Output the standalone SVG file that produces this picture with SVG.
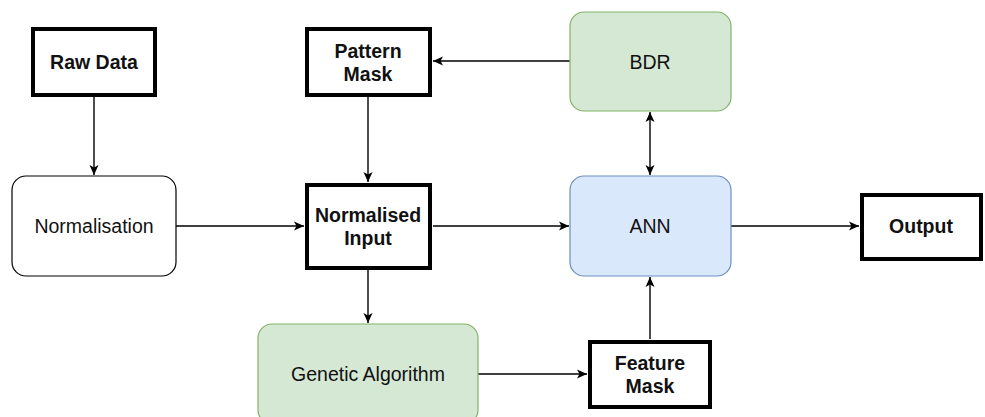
<svg xmlns="http://www.w3.org/2000/svg" width="985" height="417" viewBox="0 0 985 417">
<style>
  .bold { fill:#fff; stroke:#000; stroke-width:4; }
  .plain { fill:#fff; stroke:#000; stroke-width:1.2; }
  .green { fill:#d5e8d4; stroke:#82b366; stroke-width:1.2; }
  .blue { fill:#dae8fc; stroke:#6c8ebf; stroke-width:1.2; }
  text { font-family:"Liberation Sans", Arial, sans-serif; font-size:19.5px; fill:#111; text-anchor:middle; }
  .b { font-weight:bold; }
  .edge { fill:none; stroke:#000; stroke-width:1.4; }
</style>
<defs>
  <marker id="arr" markerUnits="userSpaceOnUse" markerWidth="12" markerHeight="12" refX="11" refY="6" orient="auto-start-reverse">
    <path d="M1,1.5 L11,6 L1,10.5 L3.5,6 Z" fill="#000"/>
  </marker>
</defs>
<rect width="985" height="417" fill="#fff"/>
<g id="connectors">
  <line class="edge" x1="94" y1="97" x2="94" y2="175" marker-end="url(#arr)"/>
  <line class="edge" x1="368" y1="97" x2="368" y2="182" marker-end="url(#arr)"/>
  <line class="edge" x1="570" y1="61" x2="433" y2="61" marker-end="url(#arr)"/>
  <line class="edge" x1="176" y1="226" x2="304" y2="226" marker-end="url(#arr)"/>
  <line class="edge" x1="433" y1="226" x2="569" y2="226" marker-end="url(#arr)"/>
  <line class="edge" x1="731" y1="226" x2="859" y2="226" marker-end="url(#arr)"/>
  <line class="edge" x1="650" y1="112" x2="650" y2="175" marker-start="url(#arr)" marker-end="url(#arr)"/>
  <line class="edge" x1="368" y1="270" x2="368" y2="323" marker-end="url(#arr)"/>
  <line class="edge" x1="478" y1="374" x2="587" y2="374" marker-end="url(#arr)"/>
  <line class="edge" x1="650" y1="339" x2="650" y2="277" marker-end="url(#arr)"/>
</g>
<g id="raw-data">
  <rect class="bold" x="33" y="29" width="122" height="66"/>
  <text class="b" x="94" y="69">Raw Data</text>
</g>
<g id="pattern-mask">
  <rect class="bold" x="307" y="29" width="123" height="66"/>
  <text class="b" x="368" y="58">Pattern</text>
  <text class="b" x="368" y="81">Mask</text>
</g>
<g id="bdr">
  <rect class="green" x="570" y="12" width="161" height="99" rx="14"/>
  <text x="650" y="69">BDR</text>
</g>
<g id="normalisation">
  <rect class="plain" x="12" y="176" width="164" height="100" rx="14"/>
  <text x="94" y="233">Normalisation</text>
</g>
<g id="normalised-input">
  <rect class="bold" x="307" y="185" width="123" height="83"/>
  <text class="b" x="368" y="222">Normalised</text>
  <text class="b" x="368" y="245">Input</text>
</g>
<g id="ann">
  <rect class="blue" x="570" y="176" width="161" height="100" rx="14"/>
  <text x="650" y="233">ANN</text>
</g>
<g id="output">
  <rect class="bold" x="862" y="195" width="119" height="64"/>
  <text class="b" x="921" y="233">Output</text>
</g>
<g id="genetic-algorithm">
  <rect class="green" x="258" y="324" width="220" height="100" rx="14"/>
  <text x="368" y="381">Genetic Algorithm</text>
</g>
<g id="feature-mask">
  <rect class="bold" x="590" y="342" width="120" height="65"/>
  <text class="b" x="650" y="370">Feature</text>
  <text class="b" x="650" y="393">Mask</text>
</g>
</svg>
